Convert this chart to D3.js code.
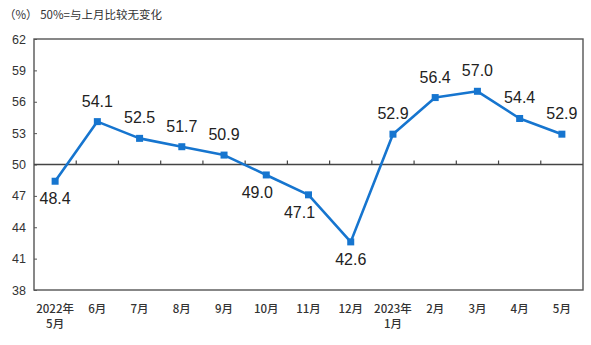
<!DOCTYPE html>
<html>
<head>
<meta charset="utf-8">
<script src="https://cdn.jsdelivr.net/npm/d3@7"></script>
<style>
  html, body { margin: 0; padding: 0; background: #fff; }
  svg { display: block; }
</style>
</head>
<body>
<svg id="chart" width="591" height="345"></svg>
<script>
// Monthly index, May 2022 – May 2023 (50 = no change from previous month)
const months = ["2022年|5月", "6月", "7月", "8月", "9月", "10月", "11月", "12月",
                "2023年|1月", "2月", "3月", "4月", "5月"];
const values = [48.4, 54.1, 52.5, 51.7, 50.9, 49.0, 47.1, 42.6, 52.9, 56.4, 57.0, 54.4, 52.9];
const labelSide = ["bottom", "top", "top", "top", "top", "bottom-left", "bottom-left", "bottom",
                   "top", "top", "top", "top", "top"];
const yTicks = [38, 41, 44, 47, 50, 53, 56, 59, 62];
const baseline = 50;
const unitNote = "（%）  50%=与上月比较无变化";

const svg = d3.select("#chart");
const margin = { left: 34, right: 8, top: 39, bottom: 55 };
const W = 591, H = 345;

const x = d3.scaleBand()
  .domain(months)
  .range([margin.left, W - margin.right])
  .paddingInner(0).paddingOuter(0);

const y = d3.scaleLinear()
  .domain([38, 62])
  .range([H - margin.bottom, margin.top]);

const cjk = "'Noto Sans CJK SC', 'Noto Sans', sans-serif";
const blue = "#1675cf";

// unit note
svg.append("text")
  .attr("x", 4).attr("y", 19)
  .attr("font-family", cjk).attr("font-size", 11.5).attr("fill", "#333")
  .text(unitNote);

// frame
svg.append("rect")
  .attr("x", margin.left).attr("y", margin.top)
  .attr("width", W - margin.right - margin.left)
  .attr("height", y(38) - y(62))
  .attr("fill", "none").attr("stroke", "#555").attr("stroke-width", 1.4);

// y axis (ticks pointing inward)
const yAxis = d3.axisLeft(y).tickValues(yTicks).tickSize(-3).tickPadding(8)
  .tickFormat(d3.format("d"));
const yg = svg.append("g").attr("transform", `translate(${margin.left},0)`).call(yAxis);
yg.select(".domain").remove();
yg.selectAll(".tick line").attr("stroke", "#555");
yg.selectAll(".tick text")
  .attr("font-family", "'Liberation Sans', Arial, sans-serif")
  .attr("font-size", 12.5).attr("fill", "#333");

// reference line at 50 with category boundary ticks
svg.append("line")
  .attr("x1", margin.left).attr("x2", W - margin.right)
  .attr("y1", y(baseline)).attr("y2", y(baseline))
  .attr("stroke", "#444").attr("stroke-width", 1.4);
svg.append("g").selectAll("line")
  .data(months.slice(1))
  .join("line")
  .attr("x1", d => x(d)).attr("x2", d => x(d))
  .attr("y1", y(baseline)).attr("y2", y(baseline) - 4)
  .attr("stroke", "#444").attr("stroke-width", 1.2);

// x category labels (two lines where the year is shown)
const xl = svg.append("g").selectAll("text")
  .data(months)
  .join("text")
  .attr("x", d => x(d) + x.bandwidth() / 2)
  .attr("y", y(38) + 23)
  .attr("text-anchor", "middle")
  .attr("font-family", cjk).attr("font-size", 11.5).attr("font-weight", 500)
  .attr("fill", "#333");
xl.each(function(d) {
  const parts = d.split("|");
  const t = d3.select(this);
  parts.forEach((p, i) => {
    t.append("tspan")
      .attr("x", x(d) + x.bandwidth() / 2)
      .attr("dy", i === 0 ? 0 : 15)
      .text(p);
  });
});

// series line
const pts = months.map((m, i) => ({ m, v: values[i], side: labelSide[i] }));
const cx = d => x(d.m) + x.bandwidth() / 2;

svg.append("path")
  .datum(pts)
  .attr("fill", "none")
  .attr("stroke", blue)
  .attr("stroke-width", 2.6)
  .attr("stroke-linejoin", "round")
  .attr("d", d3.line().x(cx).y(d => y(d.v)));

// square markers
const ms = 7;
svg.append("g").selectAll("rect")
  .data(pts)
  .join("rect")
  .attr("x", d => cx(d) - ms / 2)
  .attr("y", d => y(d.v) - ms / 2)
  .attr("width", ms).attr("height", ms)
  .attr("fill", blue);

// value labels
svg.append("g").selectAll("text")
  .data(pts)
  .join("text")
  .attr("x", d => cx(d) + (d.side === "bottom-left" ? -9 : 0))
  .attr("y", d => d.side === "top" ? y(d.v) - 15 : y(d.v) + 23)
  .attr("text-anchor", "middle")
  .attr("font-family", "'Liberation Sans', Arial, sans-serif")
  .attr("font-size", 16)
  .attr("fill", "#222")
  .text(d => d3.format(".1f")(d.v));
</script>
</body>
</html>
